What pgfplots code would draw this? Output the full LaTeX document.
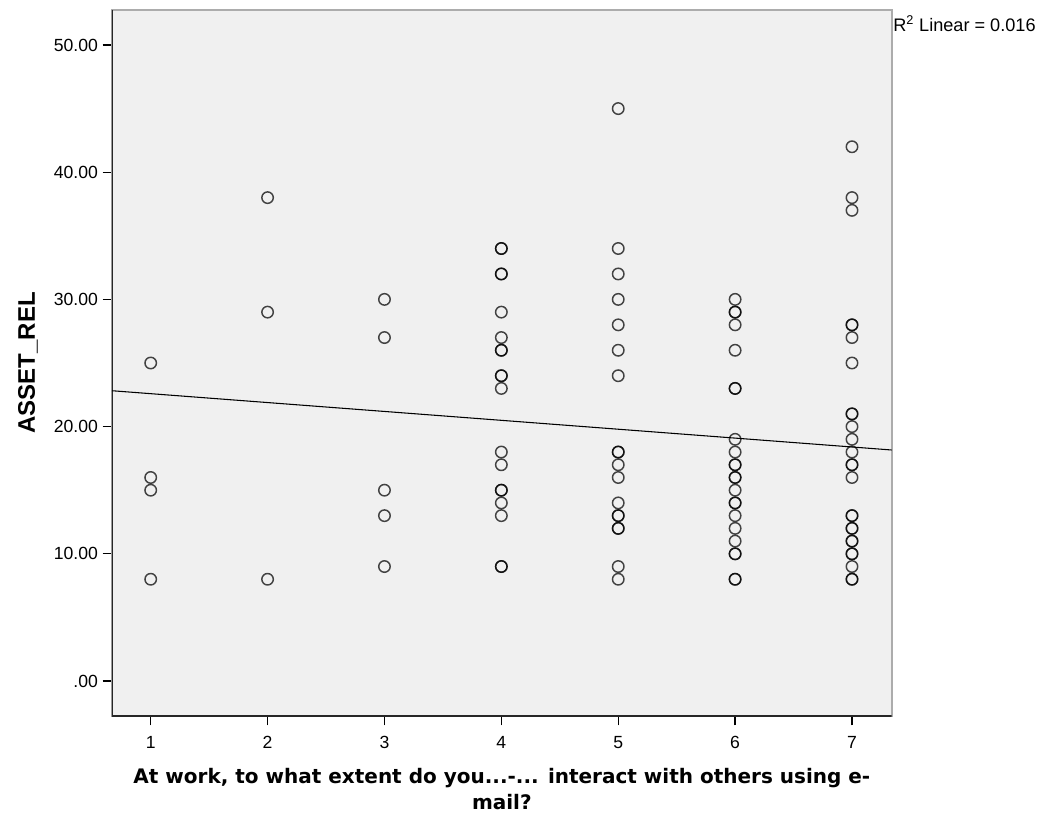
\documentclass[border=0pt]{standalone}
\usepackage{pgfplots}
\pgfplotsset{compat=1.18}
\usepackage{fontspec}
\setmainfont{Liberation Sans}
\newfontfamily\dejavu{DejaVu Sans}
\definecolor{bgfill}{HTML}{F0F0F0}
\begin{document}
\begin{tikzpicture}
\begin{axis}[
  scale only axis,
  width=584.8pt, height=529.5pt,
  xmin=0.669, xmax=7.34,
  ymin=-2.75, ymax=52.75,
  axis background/.style={fill=bgfill},
  axis line style={draw=gray!65, line width=1.3pt},
  xtick={1,2,3,4,5,6,7},
  xticklabels={1,2,3,4,5,6,7},
  ytick={0,10,20,30,40,50},
  yticklabels={.00,10.00,20.00,30.00,40.00,50.00},
  xtick pos=left, ytick pos=left,
  tick align=outside,
  major tick length=7pt,
  tick style={black, line width=1pt},
  /pgf/number format/assume math mode=true,
  ticklabel style={font=\fontsize{13.2}{15}\selectfont},
  xticklabel style={yshift=-4.5pt},
  xlabel={At work, to what extent do you...-... interact with others using e-\\mail?},
  xlabel style={align=center, font=\dejavu\bfseries\fontsize{15}{19.5}\selectfont,
    at={(rel axis cs:0.5,0)}, anchor=north, inner sep=0pt, yshift=-39pt},
  ylabel={ASSET\_REL},
  ylabel style={font=\bfseries\fontsize{18}{20}\selectfont,
    at={(rel axis cs:0,0.5)}, anchor=south, inner sep=0pt, yshift=55.5pt},
]
\coordinate (SW) at (rel axis cs:0,0);
\coordinate (NE) at (rel axis cs:1,1);
\draw[black!85, line width=1.3pt] (rel axis cs:0,1) -- (rel axis cs:0,0) -- (rel axis cs:1,0);
\addplot[only marks, mark=o, mark size=4.3pt, mark options={draw=black, draw opacity=0.72, line width=1.1pt}]
coordinates {
(1,25) (1,16) (1,15) (1,8)
(2,38) (2,29) (2,8)
(3,30) (3,27) (3,15) (3,13) (3,9)
(4,34) (4,34) (4,32) (4,32) (4,29) (4,27) (4,26) (4,26) (4,24) (4,24) (4,23)
(4,18) (4,17) (4,15) (4,15) (4,14) (4,13) (4,9) (4,9)
(5,45) (5,34) (5,32) (5,30) (5,28) (5,26) (5,24) (5,18) (5,18) (5,17) (5,16)
(5,14) (5,13) (5,13) (5,12) (5,12) (5,9) (5,8)
(6,30) (6,29) (6,29) (6,28) (6,26) (6,23) (6,23) (6,19) (6,18) (6,17) (6,17)
(6,16) (6,16) (6,15) (6,14) (6,14) (6,13) (6,12) (6,11) (6,10) (6,10) (6,8) (6,8)
(7,42) (7,38) (7,37) (7,28) (7,28) (7,27) (7,25) (7,21) (7,21) (7,20) (7,19)
(7,18) (7,17) (7,17) (7,16) (7,13) (7,13) (7,12) (7,12) (7,11) (7,11)
(7,10) (7,10) (7,9) (7,8) (7,8)
};
\addplot[black, line width=0.8pt] coordinates {(0.669,22.82) (7.34,18.16)};
\end{axis}
\node[anchor=base west, inner sep=0pt, font=\fontsize{13.6}{15}\selectfont, xshift=1pt, yshift=-16.3pt]
  at (NE) {R\textsuperscript{2} Linear = 0.016};
\pgfresetboundingbox
\path[use as bounding box] (SW) ++(-84pt,-73.5pt) rectangle ++(779.25pt,610.5pt);
\end{tikzpicture}
\end{document}
